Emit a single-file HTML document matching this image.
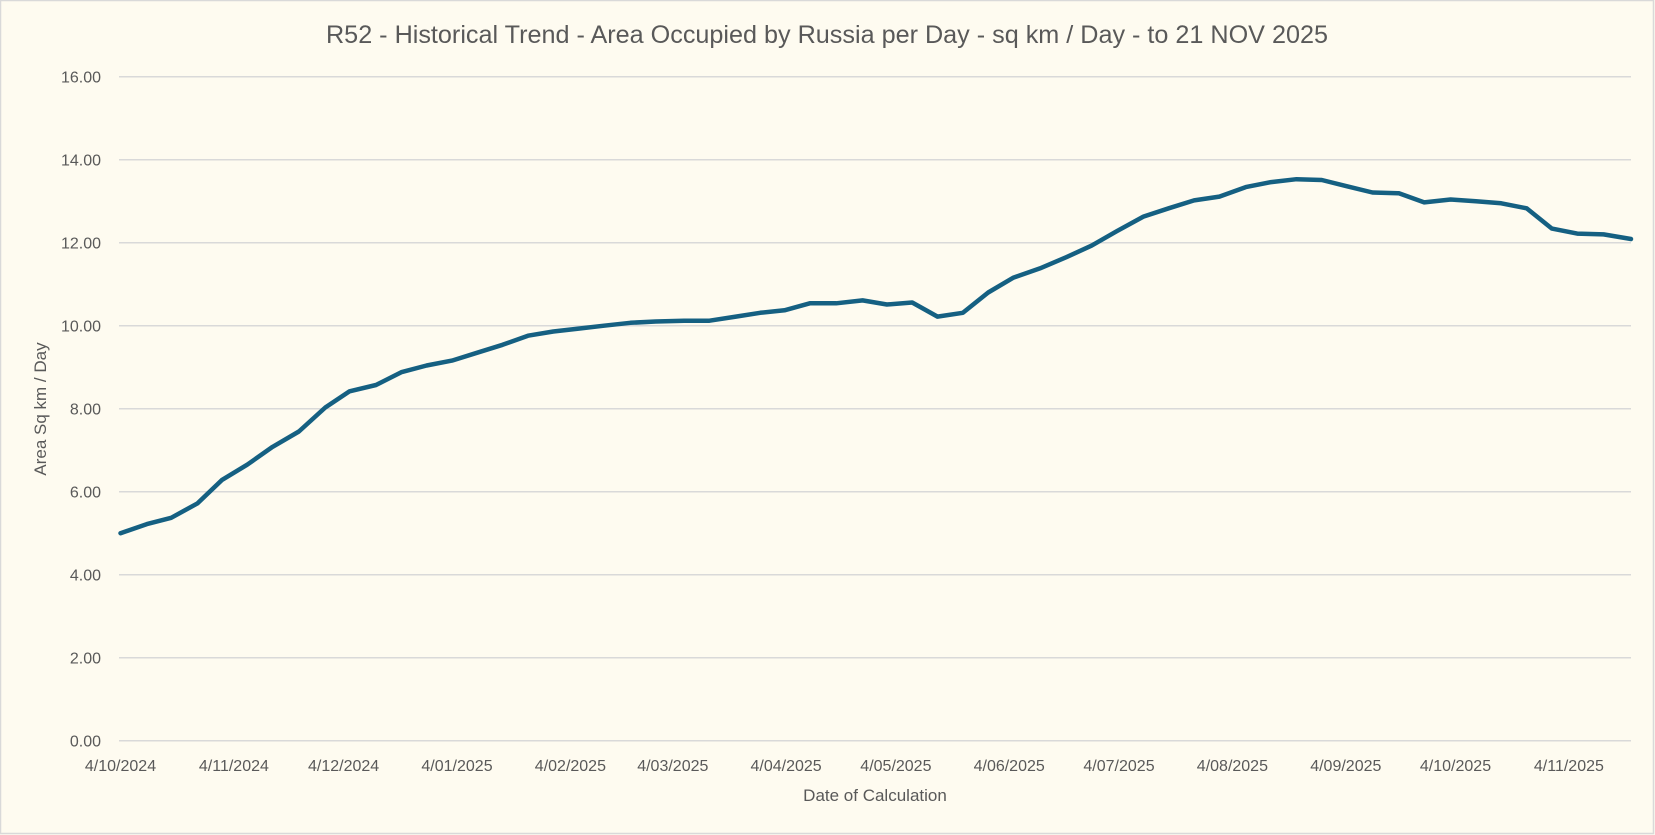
<!DOCTYPE html>
<html><head><meta charset="utf-8"><style>
html,body{margin:0;padding:0;background:#fefbf0;}
svg{display:block;}
text{font-family:"Liberation Sans",sans-serif;fill:#595959;}
</style></head><body>
<svg width="1655" height="835" viewBox="0 0 1655 835" xmlns="http://www.w3.org/2000/svg">
<rect x="0.5" y="0.5" width="1653" height="833" fill="#fefbf0" stroke="#d9d9d9" stroke-width="1.5"/>
<text x="827" y="43" font-size="25" text-anchor="middle" textLength="1002" lengthAdjust="spacingAndGlyphs">R52 - Historical Trend - Area Occupied by Russia per Day - sq km / Day - to 21 NOV 2025</text>
<g stroke="#d9d9d9" stroke-width="1.5">
<line x1="119" x2="1631" y1="740.7" y2="740.7"/>
<line x1="119" x2="1631" y1="657.7" y2="657.7"/>
<line x1="119" x2="1631" y1="574.7" y2="574.7"/>
<line x1="119" x2="1631" y1="491.7" y2="491.7"/>
<line x1="119" x2="1631" y1="408.7" y2="408.7"/>
<line x1="119" x2="1631" y1="325.7" y2="325.7"/>
<line x1="119" x2="1631" y1="242.7" y2="242.7"/>
<line x1="119" x2="1631" y1="159.7" y2="159.7"/>
<line x1="119" x2="1631" y1="76.7" y2="76.7"/>
</g>
<g font-size="16" text-anchor="end">
<text x="101" y="746.5">0.00</text>
<text x="101" y="663.5">2.00</text>
<text x="101" y="580.5">4.00</text>
<text x="101" y="497.5">6.00</text>
<text x="101" y="414.5">8.00</text>
<text x="101" y="331.5">10.00</text>
<text x="101" y="248.5">12.00</text>
<text x="101" y="165.5">14.00</text>
<text x="101" y="82.5">16.00</text>
</g>
<g font-size="16" text-anchor="middle">
<text x="120.5" y="771">4/10/2024</text>
<text x="233.9" y="771">4/11/2024</text>
<text x="343.6" y="771">4/12/2024</text>
<text x="457" y="771">4/01/2025</text>
<text x="570.4" y="771">4/02/2025</text>
<text x="672.8" y="771">4/03/2025</text>
<text x="786.1" y="771">4/04/2025</text>
<text x="895.9" y="771">4/05/2025</text>
<text x="1009.2" y="771">4/06/2025</text>
<text x="1119" y="771">4/07/2025</text>
<text x="1232.4" y="771">4/08/2025</text>
<text x="1345.8" y="771">4/09/2025</text>
<text x="1455.5" y="771">4/10/2025</text>
<text x="1568.9" y="771">4/11/2025</text>
</g>
<text x="875" y="801" font-size="17" text-anchor="middle">Date of Calculation</text>
<text transform="translate(46,409) rotate(-90)" font-size="17" text-anchor="middle">Area Sq km / Day</text>
<polyline fill="none" stroke="#156082" stroke-width="4.5" stroke-linejoin="round" stroke-linecap="round" points="120.5,533.2 146.9,524.1 171.2,517.8 197.6,503.3 221.8,480.1 247.2,464.7 272.5,446.9 298.9,431.5 325.3,407.5 349.6,391.3 376.0,385.0 401.3,372.2 426.6,365.5 452.0,360.6 477.3,352.7 502.6,344.8 528.0,335.7 553.3,331.5 578.6,328.6 604.0,325.7 630.4,322.8 655.7,321.5 684.2,320.7 709.5,320.7 735.9,316.6 760.2,312.8 784.5,310.3 809.8,303.3 836.2,303.3 862.6,300.4 886.9,304.5 912.2,302.5 937.5,316.6 962.9,312.8 988.2,292.5 1013.5,277.6 1039.9,268.4 1066.3,257.2 1091.7,245.6 1117.0,231.1 1143.4,216.6 1168.7,208.3 1194.1,200.4 1219.4,196.6 1245.8,187.1 1271.1,182.1 1296.5,179.2 1321.8,180.0 1347.1,186.3 1372.5,192.5 1398.9,193.3 1424.2,202.4 1450.6,199.5 1475.9,201.2 1501.2,203.3 1526.6,208.3 1551.9,228.6 1577.2,233.6 1603.6,234.4 1631.0,239.0"/>
</svg>
</body></html>
